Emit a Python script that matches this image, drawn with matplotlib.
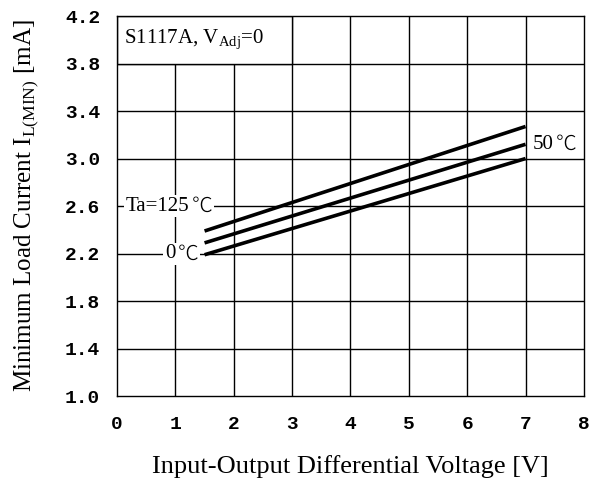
import numpy as np
import matplotlib
matplotlib.use("Agg")
import matplotlib.pyplot as plt
from matplotlib.patches import Rectangle

# data
vdiff = [1.5, 7.0]
i_125 = [2.39, 3.27]
i_50 = [2.29, 3.12]
i_0 = [2.19, 3.00]

xticks = np.arange(0, 9, 1)
yticks = np.round(np.arange(1.0, 4.21, 0.4), 1)

serif = ["Liberation Serif", "Noto Sans CJK JP", "DejaVu Sans"]
cjk = ["Noto Sans CJK JP", "DejaVu Sans"]
plt.rcParams["mathtext.fontset"] = "custom"
plt.rcParams["mathtext.rm"] = "Liberation Serif"

fig = plt.figure(figsize=(5.94, 4.86), dpi=100)
ax = fig.add_axes([0.197, 0.185, 0.786, 0.782])
ax.set_xlim(0, 8)
ax.set_ylim(1.0, 4.2)

# grid drawn by hand
for x in xticks[1:-1]:
    ax.plot([x, x], [1.0, 4.2], color="black", lw=1.0, zorder=1)
for y in yticks[1:-1]:
    ax.plot([0, 8], [y, y], color="black", lw=1.0, zorder=1)

# box in top-left cell
ax.add_patch(Rectangle((0, 3.8), 3, 0.4, facecolor="white", edgecolor="black",
                       lw=1.0, zorder=2))
ax.text(0.12, 4.0, r"S1117A, V$_{\mathrm{Adj}}$=0", family=serif, fontsize=15,
        va="center", ha="left", zorder=3)

for ys in (i_125, i_50, i_0):
    ax.plot(vdiff, ys, color="black", lw=2.6, solid_capstyle="butt", zorder=4)

box = dict(facecolor="white", edgecolor="none", pad=1)


def temp_label(x, y, txt):
    t = ax.text(x, y, txt, family=serif, fontsize=15, va="center",
                ha="left", bbox=box, zorder=3)
    ax.annotate("℃", xy=(1, 0.5), xycoords=t, xytext=(2, 0),
                textcoords="offset points", va="center", ha="left",
                family=cjk, fontsize=15, fontweight="light", zorder=3,
                bbox=box)


temp_label(0.14, 2.6, "Ta=125")
temp_label(0.82, 2.2, "0")
temp_label(7.12, 3.12, "50")

for s in ax.spines.values():
    s.set_linewidth(1.0)
ax.set_xticks(xticks)
ax.set_yticks(yticks)
ax.set_xticklabels([str(int(v)) for v in xticks], family="Liberation Mono",
                   fontweight="bold", fontsize=14)
ax.set_yticklabels([f"{v:.1f}" for v in yticks], family="Liberation Mono",
                   fontweight="bold", fontsize=14)
ax.tick_params(length=0, pad=12)
ax.tick_params(axis="x", pad=14)

ax.set_xlabel("Input-Output Differential Voltage [V]", family=serif,
              fontsize=19, labelpad=16)
ax.set_ylabel(r"Minimum Load Current I$_{\mathrm{L(MIN)}}$ [mA]", family=serif,
              fontsize=18, labelpad=17)

fig.savefig("out.png", dpi=100)
